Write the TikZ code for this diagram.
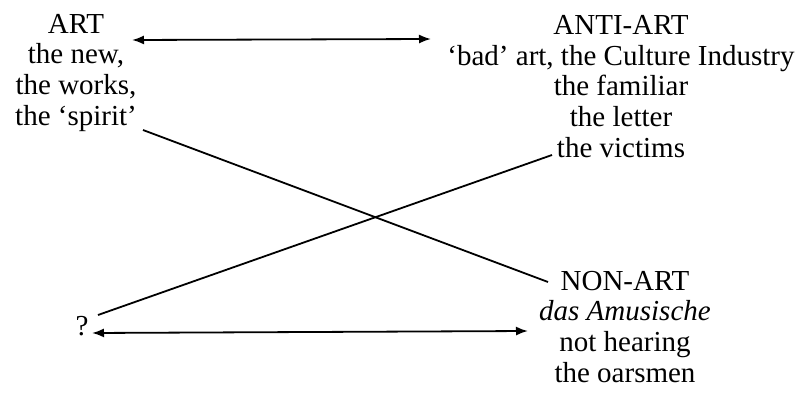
\documentclass[tikz,border=0pt]{standalone}
\usepackage{fontspec}
\setmainfont{Liberation Serif}
\usetikzlibrary{arrows.meta}

\begin{document}
\begin{tikzpicture}[x=0.5pt, y=-0.5pt,
	style={align=center, inner sep=0pt, anchor=base},
	every node/.append style={font=\fontsize{14.5}{15.3}\selectfont},
	link/.style={line width=0.9pt},
	both/.style={line width=0.9pt, {Latex[length=6pt,width=4.5pt]}-{Latex[length=6pt,width=4.5pt]}}]
	\useasboundingbox (0,0) rectangle (810,396);
	% blocks sit on the baseline of their last line
	\node (art) at (76,125) {ART\\the new,\\the works,\\the `spirit'};
	\node (anti) at (621,157) {ANTI-ART\\`bad' art, the Culture Industry\\the familiar\\the letter\\the victims};
	\node (non) at (625,382) {NON-ART\\\textit{das Amusische}\\not hearing\\the oarsmen};
	\node (q) at (82,335) {?};
	% ends of the connectors
	\coordinate (artR) at (132,40);
	\coordinate (antiL) at (431,39);
	\coordinate (artS) at (143,130);
	\coordinate (nonN) at (548,282);
	\coordinate (antiS) at (552,155);
	\coordinate (qN) at (98,315);
	\coordinate (qR) at (92,333);
	\coordinate (nonL) at (528,331);
	\draw[both] (artR) -- (antiL);
	\draw[both] (qR) -- (nonL);
	\draw[link] (artS) -- (nonN);
	\draw[link] (qN) -- (antiS);
\end{tikzpicture}
\end{document}
